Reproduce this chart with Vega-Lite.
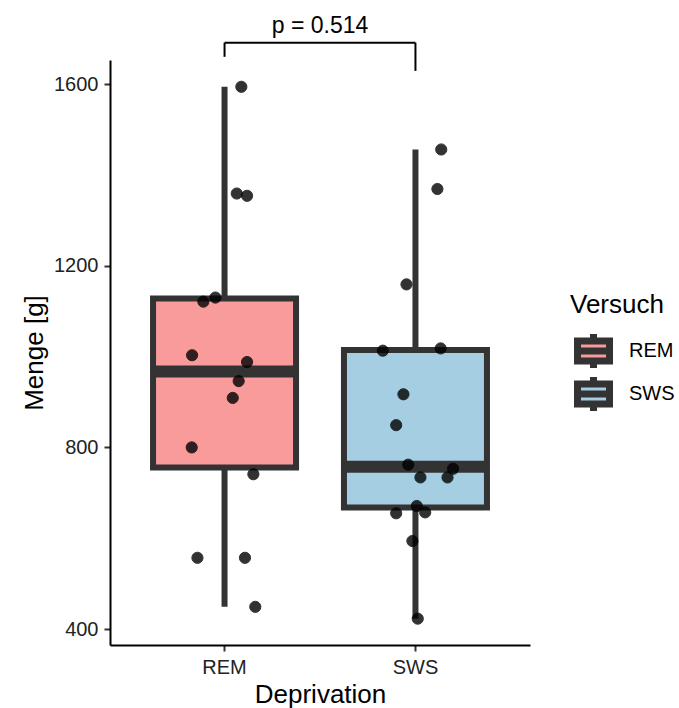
{
  "$schema": "https://vega.github.io/schema/vega-lite/v6.json",
  "width": 420,
  "height": 585,
  "autosize": {"type": "none"},
  "padding": {"left": 110, "top": 60, "right": 149, "bottom": 63},
  "background": "white",
  "config": {
    "view": {"stroke": null},
    "font": "Liberation Sans",
    "axis": {
      "grid": false,
      "domainColor": "black",
      "domainWidth": 2,
      "tickColor": "#333333",
      "tickWidth": 2,
      "tickSize": 6,
      "labelFontSize": 20,
      "labelColor": "#222222",
      "labelPadding": 6,
      "titleFontSize": 26,
      "titleFontWeight": "normal",
      "titleColor": "black"
    },
    "legend": {
      "orient": "none",
      "legendX": 460,
      "legendY": 232,
      "titleFontSize": 26,
      "titleFontWeight": "normal",
      "titleColor": "black",
      "labelFontSize": 20,
      "labelColor": "black",
      "symbolType": "M-0.8,-0.5L0.8,-0.5L0.8,0.5L-0.8,0.5Z M-0.8,0L0.8,0 M0,-0.5L0,-0.85 M0,0.5L0,0.85",
      "symbolSize": 1600,
      "symbolStrokeColor": "#333333",
      "symbolStrokeWidth": 7,
      "labelOffset": 12,
      "titlePadding": 13,
      "clipHeight": 40,
      "rowPadding": 3
    }
  },
  "datasets": {
    "obs": [
      {"Deprivation": "REM", "Versuch": "REM", "Menge": 1594, "jitter": 0.088},
      {"Deprivation": "REM", "Versuch": "REM", "Menge": 1359, "jitter": 0.064},
      {"Deprivation": "REM", "Versuch": "REM", "Menge": 1354, "jitter": 0.118},
      {"Deprivation": "REM", "Versuch": "REM", "Menge": 1121, "jitter": -0.111},
      {"Deprivation": "REM", "Versuch": "REM", "Menge": 1130, "jitter": -0.048},
      {"Deprivation": "REM", "Versuch": "REM", "Menge": 1003, "jitter": -0.170},
      {"Deprivation": "REM", "Versuch": "REM", "Menge": 988, "jitter": 0.118},
      {"Deprivation": "REM", "Versuch": "REM", "Menge": 946, "jitter": 0.074},
      {"Deprivation": "REM", "Versuch": "REM", "Menge": 909, "jitter": 0.043},
      {"Deprivation": "REM", "Versuch": "REM", "Menge": 800, "jitter": -0.172},
      {"Deprivation": "REM", "Versuch": "REM", "Menge": 741, "jitter": 0.151},
      {"Deprivation": "REM", "Versuch": "REM", "Menge": 557, "jitter": -0.142},
      {"Deprivation": "REM", "Versuch": "REM", "Menge": 557, "jitter": 0.107},
      {"Deprivation": "REM", "Versuch": "REM", "Menge": 449, "jitter": 0.161},
      {"Deprivation": "SWS", "Versuch": "SWS", "Menge": 1456, "jitter": 0.135},
      {"Deprivation": "SWS", "Versuch": "SWS", "Menge": 1369, "jitter": 0.115},
      {"Deprivation": "SWS", "Versuch": "SWS", "Menge": 1159, "jitter": -0.047},
      {"Deprivation": "SWS", "Versuch": "SWS", "Menge": 1013, "jitter": -0.171},
      {"Deprivation": "SWS", "Versuch": "SWS", "Menge": 1018, "jitter": 0.132},
      {"Deprivation": "SWS", "Versuch": "SWS", "Menge": 917, "jitter": -0.063},
      {"Deprivation": "SWS", "Versuch": "SWS", "Menge": 849, "jitter": -0.101},
      {"Deprivation": "SWS", "Versuch": "SWS", "Menge": 762, "jitter": -0.038},
      {"Deprivation": "SWS", "Versuch": "SWS", "Menge": 753, "jitter": 0.197},
      {"Deprivation": "SWS", "Versuch": "SWS", "Menge": 734, "jitter": 0.026},
      {"Deprivation": "SWS", "Versuch": "SWS", "Menge": 734, "jitter": 0.168},
      {"Deprivation": "SWS", "Versuch": "SWS", "Menge": 671, "jitter": 0.007},
      {"Deprivation": "SWS", "Versuch": "SWS", "Menge": 655, "jitter": -0.101},
      {"Deprivation": "SWS", "Versuch": "SWS", "Menge": 657, "jitter": 0.051},
      {"Deprivation": "SWS", "Versuch": "SWS", "Menge": 594, "jitter": -0.016},
      {"Deprivation": "SWS", "Versuch": "SWS", "Menge": 423, "jitter": 0.012}
    ],
    "bracket": [
      {"from": "REM", "to": "SWS", "low": 1691, "high": 1691},
      {"from": "REM", "to": "REM", "low": 1660, "high": 1691},
      {"from": "SWS", "to": "SWS", "low": 1629, "high": 1691}
    ],
    "ptext": [
      {"Deprivation": "REM", "jitter": 0.5, "Menge": 1712, "label": "p = 0.514"}
    ]
  },
  "layer": [
    {
      "data": {"name": "obs"},
      "transform": [
        {"aggregate": [
          {"op": "min", "field": "Menge", "as": "lo"},
          {"op": "max", "field": "Menge", "as": "hi"}
        ], "groupby": ["Deprivation", "Versuch"]}
      ],
      "mark": {"type": "rule", "color": "#333333", "strokeWidth": 6},
      "encoding": {
        "x": {"field": "Deprivation", "type": "nominal", "scale": {"type": "band", "paddingInner": 0, "paddingOuter": 0.1}, "axis": {"labelAngle": 0, "title": "Deprivation"}},
        "y": {"field": "lo", "type": "quantitative", "scale": {"domain": [365, 1653], "nice": false, "zero": false}, "axis": {"values": [400, 800, 1200, 1600], "format": "d", "title": "Menge [g]", "titlePadding": 6}},
        "y2": {"field": "hi"}
      }
    },
    {
      "data": {"name": "obs"},
      "transform": [
        {"aggregate": [
          {"op": "q1", "field": "Menge", "as": "q1"},
          {"op": "q3", "field": "Menge", "as": "q3"}
        ], "groupby": ["Deprivation", "Versuch"]}
      ],
      "mark": {"type": "bar", "width": 143, "stroke": "#333333", "strokeWidth": 6, "opacity": 1},
      "encoding": {
        "x": {"field": "Deprivation", "type": "nominal", "title": "Deprivation"},
        "y": {"field": "q1", "type": "quantitative", "title": "Menge [g]"},
        "y2": {"field": "q3"},
        "color": {"field": "Versuch", "type": "nominal", "scale": {"domain": ["REM", "SWS"], "range": ["#F99B9B", "#A6CEE3"]}, "legend": {"title": "Versuch"}}
      }
    },
    {
      "data": {"name": "obs"},
      "transform": [
        {"aggregate": [
          {"op": "median", "field": "Menge", "as": "med"}
        ], "groupby": ["Deprivation"]}
      ],
      "mark": {"type": "tick", "color": "#333333", "thickness": 12, "size": 143, "opacity": 1},
      "encoding": {
        "x": {"field": "Deprivation", "type": "nominal", "title": "Deprivation"},
        "y": {"field": "med", "type": "quantitative", "title": "Menge [g]"}
      }
    },
    {
      "data": {"name": "obs"},
      "mark": {"type": "circle", "size": 125, "color": "black", "opacity": 0.8, "stroke": "black", "strokeWidth": 1},
      "encoding": {
        "x": {"field": "Deprivation", "type": "nominal", "title": "Deprivation"},
        "xOffset": {"field": "jitter", "type": "quantitative", "scale": {"domain": [-0.5, 0.5]}},
        "y": {"field": "Menge", "type": "quantitative", "title": "Menge [g]"}
      }
    },
    {
      "data": {"name": "bracket"},
      "mark": {"type": "rule", "color": "black", "strokeWidth": 2},
      "encoding": {
        "x": {"field": "from", "type": "nominal", "title": "Deprivation"},
        "x2": {"field": "to"},
        "y": {"field": "low", "type": "quantitative", "title": "Menge [g]"},
        "y2": {"field": "high"}
      }
    },
    {
      "data": {"name": "ptext"},
      "mark": {"type": "text", "fontSize": 23, "color": "black", "baseline": "alphabetic", "align": "center"},
      "encoding": {
        "x": {"field": "Deprivation", "type": "nominal", "title": "Deprivation"},
        "xOffset": {"field": "jitter", "type": "quantitative", "scale": {"domain": [-0.5, 0.5]}},
        "y": {"field": "Menge", "type": "quantitative", "title": "Menge [g]"},
        "text": {"field": "label"}
      }
    }
  ]
}
